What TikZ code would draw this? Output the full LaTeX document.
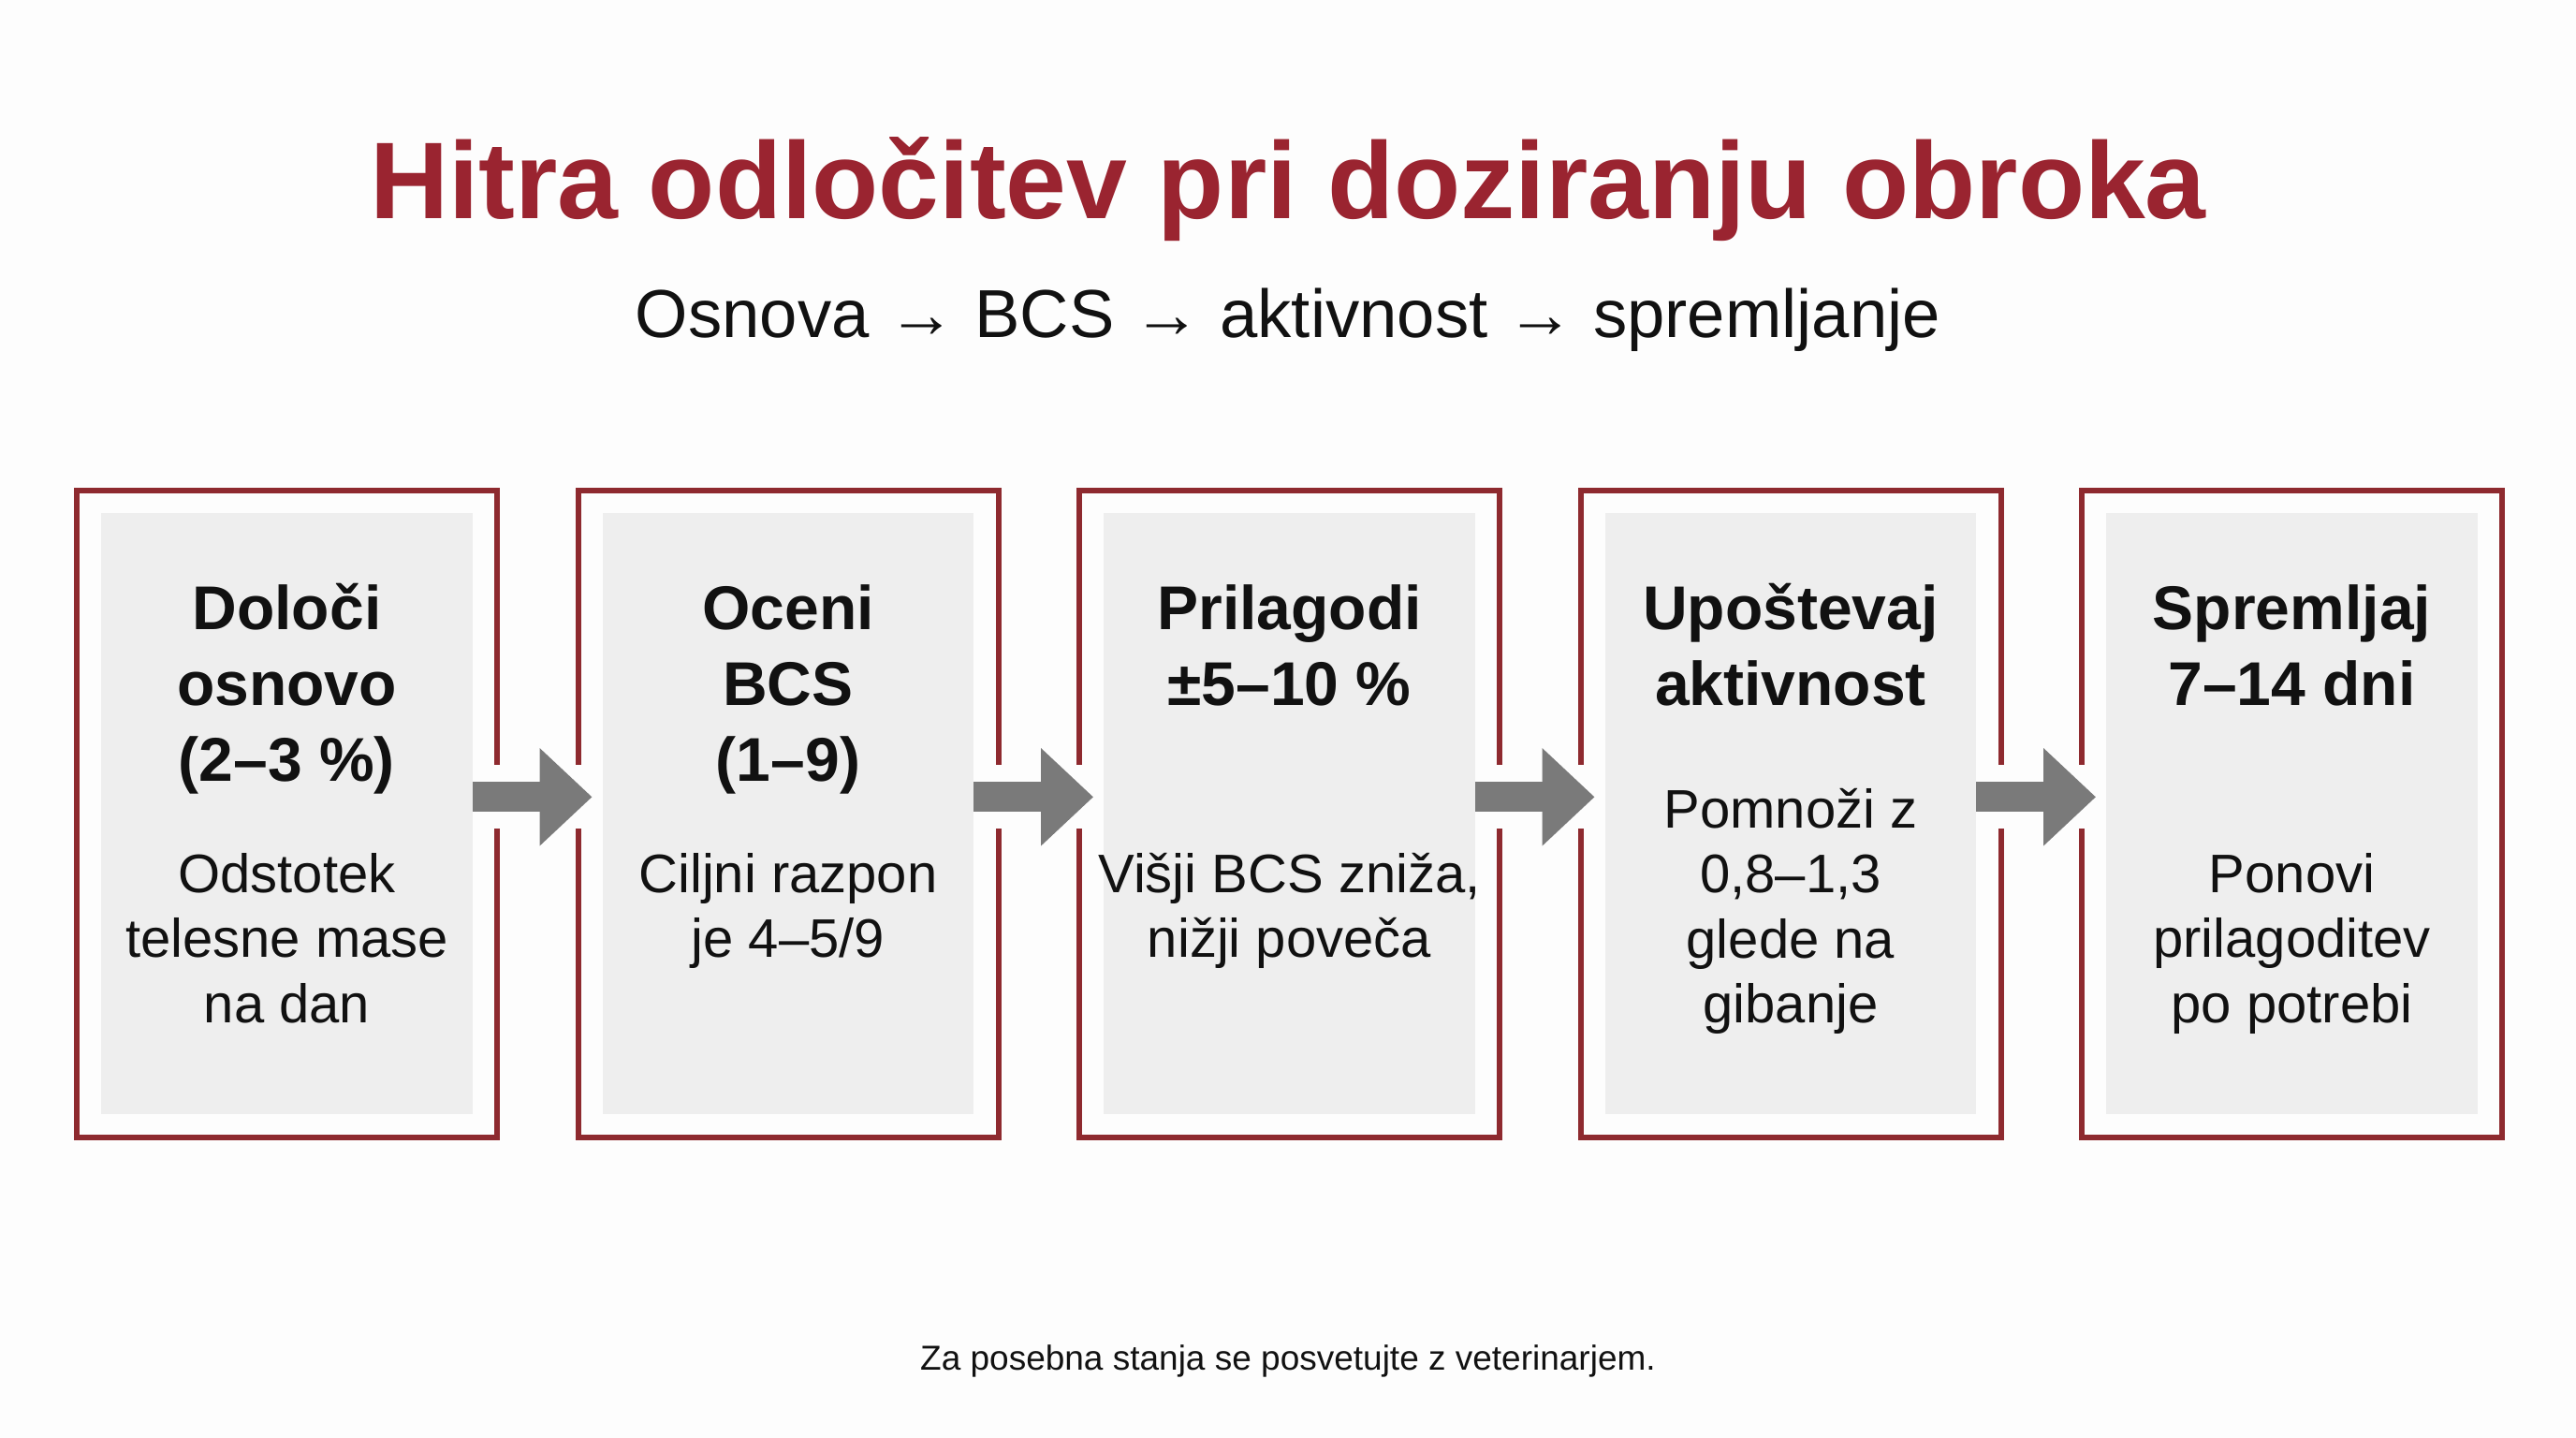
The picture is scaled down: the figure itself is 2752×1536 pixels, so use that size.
\documentclass[tikz,border=0pt]{standalone}
\usepackage{fontspec}
\setmainfont{Liberation Sans}
\usetikzlibrary{calc,arrows.meta}
\definecolor{bgc}{HTML}{FDFDFD}
\definecolor{titlered}{HTML}{9A2430}
\definecolor{borderred}{HTML}{8E2A2F}
\definecolor{boxgrey}{HTML}{EEEEEE}
\definecolor{arrowgrey}{HTML}{7A7A7A}
\definecolor{ink}{HTML}{111111}
\begin{document}
\begin{tikzpicture}[x=1pt,y=-1pt,
  redbox/.style={draw=borderred,line width=6pt,minimum width=449pt,minimum height=691.4pt,inner sep=0pt},
  greybox/.style={fill=boxgrey,minimum width=396.5pt,minimum height=642pt,inner sep=0pt},
  head/.style={anchor=base,align=center,inner sep=0pt,text=ink,font=\fontsize{66}{81}\selectfont\bfseries},
  body/.style={anchor=base,align=center,inner sep=0pt,text=ink,font=\fontsize{58}{69.5}\selectfont},
  gapfill/.style={fill=bgc},
  flow/.style={draw=arrowgrey,line width=32pt,-{Triangle[length=56pt,width=101pt]}}
]
\useasboundingbox (0,0) rectangle (2752,1536);
\fill[bgc] (0,0) rectangle (2752,1536);

\node[anchor=base,inner sep=0pt,text=titlered,font=\fontsize{116.5}{130}\selectfont\bfseries] (title) at (1376,233) {Hitra odločitev pri doziranju obroka};
\node[anchor=base,inner sep=0pt,text=ink,font=\fontsize{72.5}{84}\selectfont] (sub) at (1376,360) {Osnova → BCS → aktivnost → spremljanje};

\foreach \i/\cx in {1/306.5,2/842,3/1377.5,4/1913,5/2448.5}{
  \node[redbox] (b\i) at (\cx,869.3) {};
  \node[greybox] (g\i) at (b\i.center) {};
}

% base anchor = baseline of the last line
\node[head] (h1) at ($(g1.north)+(0,286)$) {Določi\\osnovo\\(2–3 \%)};
\node[body] (t1) at ($(g1.north)+(0,544)$) {Odstotek\\telesne mase\\na dan};
\node[head] (h2) at ($(g2.north)+(0,286)$) {Oceni\\BCS\\(1–9)};
\node[body] (t2) at ($(g2.north)+(0,474.5)$) {Ciljni razpon\\je 4–5/9};
\node[head] (h3) at ($(g3.north)+(0,205)$) {Prilagodi\\±5–10 \%};
\node[body] (t3) at ($(g3.north)+(0,474.5)$) {Višji BCS zniža,\\nižji poveča};
\node[head] (h4) at ($(g4.north)+(0,205)$) {Upoštevaj\\aktivnost};
\node[body] (t4) at ($(g4.north)+(0,544.5)$) {Pomnoži z\\0,8–1,3\\glede na\\gibanje};
\node[head] (h5) at ($(g5.north)+(0,205)$) {Spremljaj\\7–14 dni};
\node[body] (t5) at ($(g5.north)+(0,544)$) {Ponovi\\prilagoditev\\po potrebi};

\foreach \i/\j in {1/2,2/3,3/4,4/5}{
  \fill[gapfill] ($(g\i.east)+(0,-52)$) rectangle ($(g\j.west)+(0,16)$);
  \draw[flow] ($(g\i.east)+(0,-18)$) -- ($(g\j.west)+(-11,-18)$);
}

\node[anchor=base,inner sep=0pt,text=ink,font=\fontsize{37}{44}\selectfont] (foot) at (1376,1463) {Za posebna stanja se posvetujte z veterinarjem.};
\end{tikzpicture}
\end{document}
